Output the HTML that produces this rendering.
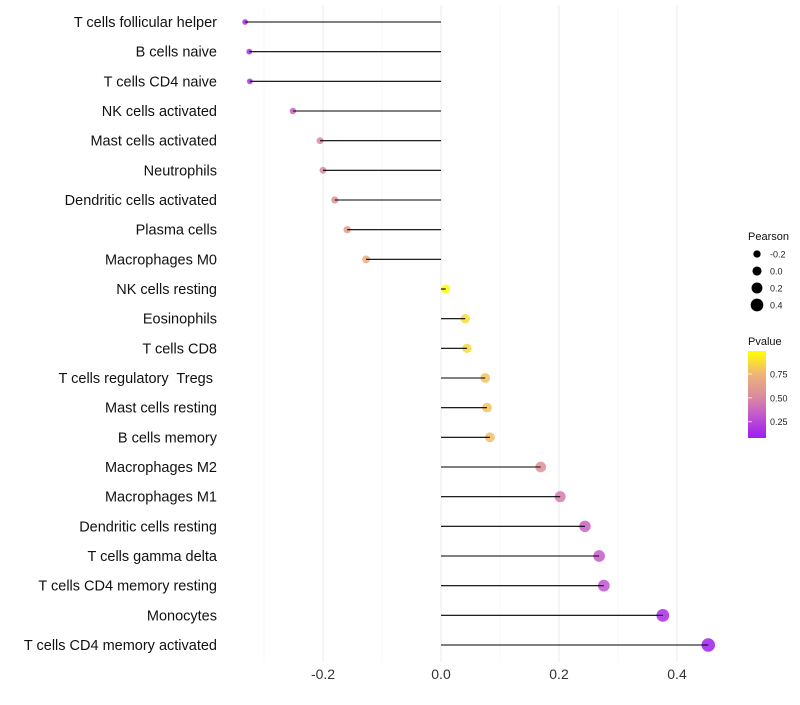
<!DOCTYPE html>
<html><head><meta charset="utf-8"><style>
body{margin:0;background:#fff;font-family:"Liberation Sans",sans-serif}
text{white-space:pre}
</style></head><body>
<svg id="chart" width="800" height="700" xmlns="http://www.w3.org/2000/svg" font-family="Liberation Sans, sans-serif"></svg>
<script>
const categories=["T cells follicular helper","B cells naive","T cells CD4 naive","NK cells activated","Mast cells activated","Neutrophils","Dendritic cells activated","Plasma cells","Macrophages M0","NK cells resting","Eosinophils","T cells CD8","T cells regulatory  Tregs ","Mast cells resting","B cells memory","Macrophages M2","Macrophages M1","Dendritic cells resting","T cells gamma delta","T cells CD4 memory resting","Monocytes","T cells CD4 memory activated"];
const pearson=[-0.332,-0.325,-0.324,-0.251,-0.205,-0.2,-0.18,-0.159,-0.127,0.008,0.041,0.044,0.075,0.078,0.083,0.169,0.202,0.244,0.268,0.276,0.376,0.453];
const pvalues=[0.15,0.17,0.18,0.35,0.5,0.5,0.55,0.62,0.7,0.97,0.88,0.86,0.8,0.8,0.78,0.55,0.45,0.35,0.33,0.3,0.15,0.1];
const xTicks=[-0.2,0.0,0.2,0.4];
const xTickLabels=["-0.2","0.0","0.2","0.4"];
const xMinor=[-0.3,-0.1,0.1,0.3];
const sizeLegend=[-0.2,0.0,0.2,0.4];
const pLegendTicks=[0.25,0.5,0.75];

const svg=document.getElementById('chart');
const NS="http://www.w3.org/2000/svg";
const X=v=>441+v*590;
const Y=i=>22+i*(623/21);
const R=v=>4.5+5*v;
const stops=[[0.1,[160,32,240]],[0.35,[200,96,200]],[0.5,[216,136,160]],[0.75,[240,180,120]],[0.98,[255,255,0]]];
function col(p){if(p<=stops[0][0])return rgb(stops[0][1]);for(let i=1;i<stops.length;i++){if(p<=stops[i][0]){const t=(p-stops[i-1][0])/(stops[i][0]-stops[i-1][0]);const a=stops[i-1][1],b=stops[i][1];return rgb(a.map((c,k)=>c+(b[k]-c)*t));}}return rgb(stops[stops.length-1][1]);}
function rgb(a){return `rgb(${a.map(Math.round).join(',')})`;}
function el(t,at,txt){const e=document.createElementNS(NS,t);for(const k in at)e.setAttribute(k,at[k]);if(txt!==undefined)e.textContent=txt;svg.appendChild(e);return e;}

[...xTicks,...xMinor].forEach(v=>{const g=el('line',{x1:X(v),x2:X(v),y1:5,y2:662,stroke:xTicks.includes(v)?'#ebebeb':'#f3f3f3','stroke-width':xTicks.includes(v)?1:0.6});

});
xTicks.forEach((v,i)=>{const t=el('text',{x:X(v),y:679,'text-anchor':'middle','font-size':14,fill:'#333'},xTickLabels[i]);

});
categories.forEach((c,i)=>{
const t=el('text',{x:217,y:Y(i)+5,'text-anchor':'end','font-size':14.5,fill:'#111'},c);


const p=el('circle',{cx:X(pearson[i]),cy:Y(i),r:R(pearson[i]),fill:col(pvalues[i]),'fill-opacity':0.85});


const l=el('line',{x1:X(0),x2:X(pearson[i]),y1:Y(i),y2:Y(i),stroke:'#000','stroke-width':1.1});


});
let lt=el('text',{x:748,y:240,'font-size':11,fill:'#111'},'Pearson');


sizeLegend.forEach((v,i)=>{const cy=254+i*17;
const c=el('circle',{cx:757,cy:cy,r:R(v)*0.9+0.5,fill:'#000'});


const t=el('text',{x:770,y:cy+3.5,'font-size':9,fill:'#222'},v.toFixed(1));

});
let pt=el('text',{x:748,y:345,'font-size':11,fill:'#111'},'Pvalue');


const defs=el('defs',{});
const lg=document.createElementNS(NS,'linearGradient');lg.setAttribute('id','pg');lg.setAttribute('x1','0');lg.setAttribute('y1','1');lg.setAttribute('x2','0');lg.setAttribute('y2','0');defs.appendChild(lg);
const pmin=0.08,pmax=0.99;
for(let k=0;k<=20;k++){const p=pmin+(pmax-pmin)*k/20;const s=document.createElementNS(NS,'stop');s.setAttribute('offset',k/20);s.setAttribute('stop-color',col(p));lg.appendChild(s);}
const bar=el('rect',{x:748,y:351,width:18,height:87,fill:'url(#pg)'});


const PY=p=>438-(p-pmin)/(pmax-pmin)*87;
pLegendTicks.forEach(p=>{
const tk=el('line',{x1:748,x2:752,y1:PY(p),y2:PY(p),stroke:'#fff','stroke-width':0.8});


const t=el('text',{x:770,y:PY(p)+3.5,'font-size':9,fill:'#222'},p.toFixed(2));

});
</script>
</body></html>
